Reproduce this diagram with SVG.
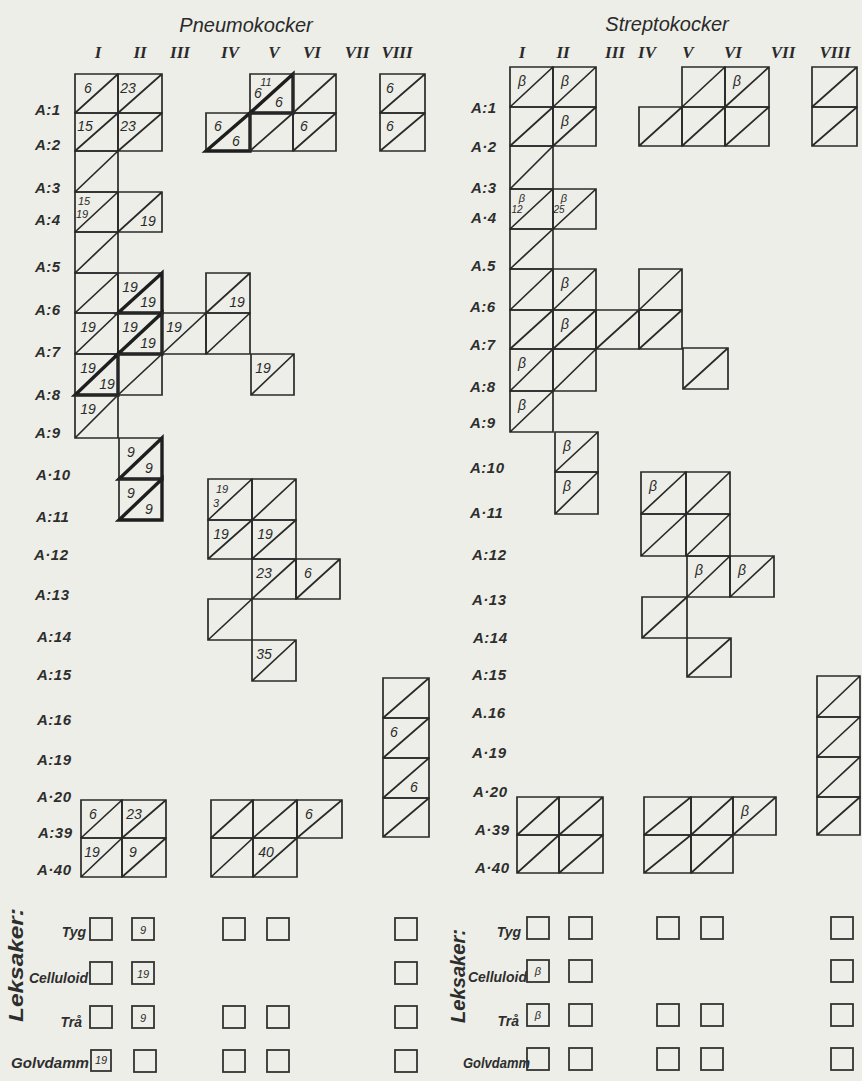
<svg xmlns="http://www.w3.org/2000/svg" width="862" height="1081" viewBox="0 0 862 1081">
<style>
.c{fill:none;stroke:#2a2a2a;stroke-width:1.7}
.b{fill:none;stroke:#1e1e1e;stroke-width:3.4;stroke-linejoin:miter}
.n{font-family:"Liberation Sans",Arial,sans-serif;font-style:italic;font-size:14px;fill:#2a2a2a;text-anchor:middle}
.s{font-size:11px}
.xs{font-size:10px}
.lab{font-family:"Liberation Sans",Arial,sans-serif;font-style:italic;font-weight:bold;font-size:15px;fill:#2e2e2e;letter-spacing:0.5px}
.rn{font-family:"Liberation Serif","Times New Roman",serif;font-weight:bold;font-style:italic;font-size:17px;fill:#2a2a2a;text-anchor:middle}
.ti{font-family:"Liberation Sans",Arial,sans-serif;font-style:italic;font-size:20px;fill:#2a2a2a;text-anchor:middle}
.ty{font-family:"Liberation Sans",Arial,sans-serif;font-style:italic;font-weight:bold;font-size:14px;fill:#2e2e2e;text-anchor:end}
.lk{font-family:"Liberation Sans",Arial,sans-serif;font-style:italic;font-weight:bold;font-size:20px;fill:#2e2e2e;text-anchor:middle}
.bx{fill:none;stroke:#333;stroke-width:1.8}
</style>
<rect width="862" height="1081" fill="#edeee8"/>

<g id="headers">
<text class="ti" x="246" y="32">Pneumokocker</text>
<text class="ti" x="667" y="31">Streptokocker</text>
<text class="rn" x="98" y="58">I</text><text class="rn" x="140" y="58">II</text><text class="rn" x="180" y="58">III</text><text class="rn" x="230" y="58">IV</text><text class="rn" x="274" y="58">V</text><text class="rn" x="312" y="58">VI</text><text class="rn" x="357" y="58">VII</text><text class="rn" x="397" y="58">VIII</text>
<text class="rn" x="522" y="58">I</text><text class="rn" x="563" y="58">II</text><text class="rn" x="615" y="58">III</text><text class="rn" x="647" y="58">IV</text><text class="rn" x="688" y="58">V</text><text class="rn" x="733" y="58">VI</text><text class="rn" x="783" y="58">VII</text><text class="rn" x="835" y="58">VIII</text>
</g>

<g id="row-labels-left">
<text class="lab" x="35" y="115">A:1</text><text class="lab" x="35" y="150">A:2</text><text class="lab" x="35" y="193">A:3</text><text class="lab" x="35" y="225">A:4</text><text class="lab" x="35" y="272">A:5</text>
<text class="lab" x="35" y="315">A:6</text><text class="lab" x="35" y="357">A:7</text><text class="lab" x="35" y="400">A:8</text><text class="lab" x="35" y="438">A:9</text><text class="lab" x="36" y="480">A·10</text>
<text class="lab" x="36" y="522">A:11</text><text class="lab" x="34" y="560">A·12</text><text class="lab" x="35" y="600">A:13</text><text class="lab" x="37" y="642">A:14</text><text class="lab" x="37" y="680">A:15</text>
<text class="lab" x="37" y="725">A:16</text><text class="lab" x="37" y="765">A:19</text><text class="lab" x="37" y="802">A·20</text><text class="lab" x="38" y="838">A:39</text><text class="lab" x="37" y="875">A·40</text>
</g>
<g id="row-labels-right">
<text class="lab" x="471" y="113">A:1</text><text class="lab" x="471" y="152">A·2</text><text class="lab" x="471" y="193">A:3</text><text class="lab" x="471" y="223">A·4</text><text class="lab" x="471" y="271">A.5</text>
<text class="lab" x="470" y="312">A:6</text><text class="lab" x="470" y="350">A:7</text><text class="lab" x="470" y="392">A:8</text><text class="lab" x="470" y="428">A:9</text><text class="lab" x="470" y="473">A:10</text>
<text class="lab" x="470" y="518">A·11</text><text class="lab" x="472" y="560">A:12</text><text class="lab" x="472" y="605">A·13</text><text class="lab" x="473" y="643">A:14</text><text class="lab" x="472" y="680">A:15</text>
<text class="lab" x="472" y="718">A.16</text><text class="lab" x="472" y="758">A·19</text><text class="lab" x="473" y="797">A·20</text><text class="lab" x="475" y="835">A·39</text><text class="lab" x="475" y="873">A·40</text>
</g>

<g id="pneumokocker">
<g id="L-A1-I"><path class="c" d="M75 74h43v39h-43Z M75 113L118 74"/><text class="n" x="88" y="93">6</text></g>
<g id="L-A1-II"><path class="c" d="M118 74h44v39h-44Z M118 113L162 74"/><text class="n" x="128" y="93">23</text></g>
<g id="L-A1-V"><path class="c" d="M250 74h43v39h-43Z M250 113L293 74"/><path class="b" d="M250 113L293 74V113Z"/><text class="n s" x="266" y="86">11</text><text class="n" x="258" y="98">6</text><text class="n" x="279" y="107">6</text></g>
<g id="L-A1-VI"><path class="c" d="M293 74h43v39h-43Z M293 113L336 74"/></g>
<g id="L-A1-VIII"><path class="c" d="M380 74h45v39h-45Z M380 113L425 74"/><text class="n" x="390" y="93">6</text></g>
<g id="L-A2-I"><path class="c" d="M75 113h43v38h-43Z M75 151L118 113"/><text class="n" x="85" y="131">15</text></g>
<g id="L-A2-II"><path class="c" d="M118 113h44v38h-44Z M118 151L162 113"/><text class="n" x="128" y="131">23</text></g>
<g id="L-A2-IV"><path class="c" d="M206 113h44v38h-44Z M206 151L250 113"/><path class="b" d="M206 151L250 113V151Z"/><text class="n" x="218" y="131">6</text><text class="n" x="236" y="146">6</text></g>
<g id="L-A2-V"><path class="c" d="M250 113h43v38h-43Z M250 151L293 113"/></g>
<g id="L-A2-VI"><path class="c" d="M293 113h43v38h-43Z M293 151L336 113"/><text class="n" x="304" y="131">6</text></g>
<g id="L-A2-VIII"><path class="c" d="M380 113h45v38h-45Z M380 151L425 113"/><text class="n" x="390" y="131">6</text></g>
<g id="L-A3-I"><path class="c" d="M75 151h43v41h-43Z M75 192L118 151"/></g>
<g id="L-A4-I"><path class="c" d="M75 192h43v40h-43Z M75 232L118 192"/><text class="n s" x="84" y="205">15</text><text class="n s" x="82" y="218">19</text></g>
<g id="L-A4-II"><path class="c" d="M118 192h44v40h-44Z M118 232L162 192"/><text class="n" x="148" y="226">19</text></g>
<g id="L-A5-I"><path class="c" d="M75 232h43v41h-43Z M75 273L118 232"/></g>
<g id="L-A6-I"><path class="c" d="M75 273h43v40h-43Z M75 313L118 273"/></g>
<g id="L-A6-II"><path class="c" d="M118 273h44v40h-44Z M118 313L162 273"/><path class="b" d="M118 313L162 273V313Z"/><text class="n" x="130" y="292">19</text><text class="n" x="148" y="307">19</text></g>
<g id="L-A6-IV"><path class="c" d="M206 273h44v40h-44Z M206 313L250 273"/><text class="n" x="237" y="307">19</text></g>
<g id="L-A7-I"><path class="c" d="M75 313h43v41h-43Z M75 354L118 313"/><text class="n" x="88" y="332">19</text></g>
<g id="L-A7-II"><path class="c" d="M118 313h44v41h-44Z M118 354L162 313"/><path class="b" d="M118 354L162 313V354Z"/><text class="n" x="130" y="332">19</text><text class="n" x="148" y="348">19</text></g>
<g id="L-A7-III"><path class="c" d="M162 313h44v41h-44Z M162 354L206 313"/><text class="n" x="174" y="332">19</text></g>
<g id="L-A7-IV"><path class="c" d="M206 313h44v41h-44Z M206 354L250 313"/></g>
<g id="L-A8-I"><path class="c" d="M75 354h43v41h-43Z M75 395L118 354"/><path class="b" d="M75 395L118 354V395Z"/><text class="n" x="88" y="373">19</text><text class="n" x="107" y="389">19</text></g>
<g id="L-A8-II"><path class="c" d="M118 354h44v41h-44Z M118 395L162 354"/></g>
<g id="L-A8-V"><path class="c" d="M251 354h43v41h-43Z M251 395L294 354"/><text class="n" x="263" y="373">19</text></g>
<g id="L-A9-I"><path class="c" d="M75 395h43v43h-43Z M75 438L118 395"/><text class="n" x="88" y="414">19</text></g>
<g id="L-A10-II"><path class="c" d="M119 438h43v41h-43Z M119 479L162 438"/><path class="b" d="M119 479L162 438V479Z"/><text class="n" x="131" y="457">9</text><text class="n" x="149" y="473">9</text></g>
<g id="L-A11-II"><path class="c" d="M119 479h43v41h-43Z M119 520L162 479"/><path class="b" d="M119 520L162 479V520Z"/><text class="n" x="131" y="498">9</text><text class="n" x="149" y="514">9</text></g>
<g id="L-A11-IV"><path class="c" d="M208 479h44v41h-44Z M208 520L252 479"/><text class="n s" x="222" y="493">19</text><text class="n s" x="216" y="507">3</text></g>
<g id="L-A11-V"><path class="c" d="M252 479h44v41h-44Z M252 520L296 479"/></g>
<g id="L-A12-IV"><path class="c" d="M208 520h44v39h-44Z M208 559L252 520"/><text class="n" x="221" y="539">19</text></g>
<g id="L-A12-V"><path class="c" d="M252 520h44v39h-44Z M252 559L296 520"/><text class="n" x="265" y="539">19</text></g>
<g id="L-A13-V"><path class="c" d="M252 559h44v40h-44Z M252 599L296 559"/><text class="n" x="264" y="578">23</text></g>
<g id="L-A13-VI"><path class="c" d="M296 559h44v40h-44Z M296 599L340 559"/><text class="n" x="308" y="578">6</text></g>
<g id="L-A14-IV"><path class="c" d="M208 599h44v41h-44Z M208 640L252 599"/></g>
<g id="L-A15-V"><path class="c" d="M252 640h44v41h-44Z M252 681L296 640"/><text class="n" x="264" y="659">35</text></g>
<g id="L-A16-VIII"><path class="c" d="M383 678h46v40h-46Z M383 718L429 678"/></g>
<g id="L-A19-VIII"><path class="c" d="M383 718h46v40h-46Z M383 758L429 718"/><text class="n" x="394" y="737">6</text></g>
<g id="L-A20-VIII"><path class="c" d="M383 758h46v40h-46Z M383 798L429 758"/><text class="n" x="414" y="792">6</text></g>
<g id="L-A39-VIII"><path class="c" d="M383 798h46v39h-46Z M383 837L429 798"/></g>
<g id="L-A39-I"><path class="c" d="M81 800h41v38h-41Z M81 838L122 800"/><text class="n" x="93" y="819">6</text></g>
<g id="L-A39-II"><path class="c" d="M122 800h44v38h-44Z M122 838L166 800"/><text class="n" x="134" y="819">23</text></g>
<g id="L-A40-I"><path class="c" d="M81 838h41v39h-41Z M81 877L122 838"/><text class="n" x="92" y="857">19</text></g>
<g id="L-A40-II"><path class="c" d="M122 838h44v39h-44Z M122 877L166 838"/><text class="n" x="133" y="857">9</text></g>
<g id="L-A39-IV"><path class="c" d="M211 800h42v38h-42Z M211 838L253 800"/></g>
<g id="L-A39-V"><path class="c" d="M253 800h44v38h-44Z M253 838L297 800"/></g>
<g id="L-A39-VI"><path class="c" d="M297 800h45v38h-45Z M297 838L342 800"/><text class="n" x="309" y="819">6</text></g>
<g id="L-A40-IV"><path class="c" d="M211 838h42v39h-42Z M211 877L253 838"/></g>
<g id="L-A40-V"><path class="c" d="M253 838h44v39h-44Z M253 877L297 838"/><text class="n" x="266" y="857">40</text></g>
</g>

<g id="streptokocker">
<g id="R-A1-I"><path class="c" d="M510 67h43v40h-43Z M510 107L553 67"/><text class="n" x="522" y="86">β</text></g>
<g id="R-A1-II"><path class="c" d="M553 67h43v40h-43Z M553 107L596 67"/><text class="n" x="565" y="86">β</text></g>
<g id="R-A1-V"><path class="c" d="M682 67h43v40h-43Z M682 107L725 67"/></g>
<g id="R-A1-VI"><path class="c" d="M725 67h44v40h-44Z M725 107L769 67"/><text class="n" x="737" y="86">β</text></g>
<g id="R-A1-VIII"><path class="c" d="M812 67h45v40h-45Z M812 107L857 67"/></g>
<g id="R-A2-I"><path class="c" d="M510 107h43v39h-43Z M510 146L553 107"/></g>
<g id="R-A2-II"><path class="c" d="M553 107h43v39h-43Z M553 146L596 107"/><text class="n" x="565" y="126">β</text></g>
<g id="R-A2-IV"><path class="c" d="M639 107h43v39h-43Z M639 146L682 107"/></g>
<g id="R-A2-V"><path class="c" d="M682 107h43v39h-43Z M682 146L725 107"/></g>
<g id="R-A2-VI"><path class="c" d="M725 107h44v39h-44Z M725 146L769 107"/></g>
<g id="R-A2-VIII"><path class="c" d="M812 107h45v39h-45Z M812 146L857 107"/></g>
<g id="R-A3-I"><path class="c" d="M510 146h43v43h-43Z M510 189L553 146"/></g>
<g id="R-A4-I"><path class="c" d="M510 189h43v40h-43Z M510 229L553 189"/><text class="n s" x="522" y="202">β</text><text class="n xs" x="517" y="213">12</text></g>
<g id="R-A4-II"><path class="c" d="M553 189h43v40h-43Z M553 229L596 189"/><text class="n s" x="564" y="202">β</text><text class="n xs" x="559" y="213">25</text></g>
<g id="R-A5-I"><path class="c" d="M510 229h43v40h-43Z M510 269L553 229"/></g>
<g id="R-A6-I"><path class="c" d="M510 269h43v41h-43Z M510 310L553 269"/></g>
<g id="R-A6-II"><path class="c" d="M553 269h43v41h-43Z M553 310L596 269"/><text class="n" x="565" y="288">β</text></g>
<g id="R-A6-IV"><path class="c" d="M639 269h43v41h-43Z M639 310L682 269"/></g>
<g id="R-A7-I"><path class="c" d="M510 310h43v39h-43Z M510 349L553 310"/></g>
<g id="R-A7-II"><path class="c" d="M553 310h43v39h-43Z M553 349L596 310"/><text class="n" x="565" y="329">β</text></g>
<g id="R-A7-III"><path class="c" d="M596 310h43v39h-43Z M596 349L639 310"/></g>
<g id="R-A7-IV"><path class="c" d="M639 310h43v39h-43Z M639 349L682 310"/></g>
<g id="R-A8-I"><path class="c" d="M510 349h43v42h-43Z M510 391L553 349"/><text class="n" x="522" y="368">β</text></g>
<g id="R-A8-II"><path class="c" d="M553 349h43v42h-43Z M553 391L596 349"/></g>
<g id="R-A8-V"><path class="c" d="M683 348h45v41h-45Z M683 389L728 348"/></g>
<g id="R-A9-I"><path class="c" d="M510 391h43v41h-43Z M510 432L553 391"/><text class="n" x="522" y="410">β</text></g>
<g id="R-A10-II"><path class="c" d="M555 432h43v40h-43Z M555 472L598 432"/><text class="n" x="567" y="451">β</text></g>
<g id="R-A11-II"><path class="c" d="M555 472h43v42h-43Z M555 514L598 472"/><text class="n" x="567" y="491">β</text></g>
<g id="R-A11-IV"><path class="c" d="M641 472h45v42h-45Z M641 514L686 472"/><text class="n" x="653" y="491">β</text></g>
<g id="R-A11-V"><path class="c" d="M686 472h44v42h-44Z M686 514L730 472"/></g>
<g id="R-A12-IV"><path class="c" d="M641 514h45v42h-45Z M641 556L686 514"/></g>
<g id="R-A12-V"><path class="c" d="M686 514h44v42h-44Z M686 556L730 514"/></g>
<g id="R-A13-V"><path class="c" d="M687 556h43v41h-43Z M687 597L730 556"/><text class="n" x="699" y="575">β</text></g>
<g id="R-A13-VI"><path class="c" d="M730 556h44v41h-44Z M730 597L774 556"/><text class="n" x="742" y="575">β</text></g>
<g id="R-A14-IV"><path class="c" d="M642 597h45v41h-45Z M642 638L687 597"/></g>
<g id="R-A15-V"><path class="c" d="M687 638h44v39h-44Z M687 677L731 638"/></g>
<g id="R-A16-VIII"><path class="c" d="M817 676h43v41h-43Z M817 717L860 676"/></g>
<g id="R-A19-VIII"><path class="c" d="M817 717h43v40h-43Z M817 757L860 717"/></g>
<g id="R-A20-VIII"><path class="c" d="M817 757h43v40h-43Z M817 797L860 757"/></g>
<g id="R-A39-VIII"><path class="c" d="M817 797h43v38h-43Z M817 835L860 797"/></g>
<g id="R-A39-I"><path class="c" d="M517 797h42v38h-42Z M517 835L559 797"/></g>
<g id="R-A39-II"><path class="c" d="M559 797h44v38h-44Z M559 835L603 797"/></g>
<g id="R-A40-I"><path class="c" d="M517 835h42v38h-42Z M517 873L559 835"/></g>
<g id="R-A40-II"><path class="c" d="M559 835h44v38h-44Z M559 873L603 835"/></g>
<g id="R-A39-IV"><path class="c" d="M644 797h47v38h-47Z M644 835L691 797"/></g>
<g id="R-A39-V"><path class="c" d="M691 797h42v38h-42Z M691 835L733 797"/></g>
<g id="R-A39-VI"><path class="c" d="M733 797h43v38h-43Z M733 835L776 797"/><text class="n" x="745" y="816">β</text></g>
<g id="R-A40-IV"><path class="c" d="M644 835h47v38h-47Z M644 873L691 835"/></g>
<g id="R-A40-V"><path class="c" d="M691 835h42v38h-42Z M691 873L733 835"/></g>
</g>

<g id="leksaker-left">
<text class="lk" transform="translate(23 965) rotate(-90)" textLength="114" lengthAdjust="spacingAndGlyphs">Leksaker:</text>
<text class="ty" x="86" y="937">Tyg</text>
<text class="ty" x="88" y="983">Celluloid</text>
<text class="ty" x="82" y="1027">Trå</text>
<text class="ty" x="89" y="1068" textLength="78" lengthAdjust="spacingAndGlyphs">Golvdamm</text>
<rect class="bx" x="90" y="918" width="22" height="22"/><rect class="bx" x="132" y="918" width="22" height="22"/><text class="n s" x="143" y="934">9</text><rect class="bx" x="223" y="918" width="22" height="22"/><rect class="bx" x="267" y="918" width="22" height="22"/><rect class="bx" x="395" y="918" width="22" height="22"/>
<rect class="bx" x="90" y="962" width="22" height="22"/><rect class="bx" x="132" y="962" width="22" height="22"/><text class="n s" x="143" y="978">19</text><rect class="bx" x="395" y="962" width="22" height="22"/>
<rect class="bx" x="90" y="1006" width="22" height="22"/><rect class="bx" x="132" y="1006" width="22" height="22"/><text class="n s" x="143" y="1022">9</text><rect class="bx" x="223" y="1006" width="22" height="22"/><rect class="bx" x="267" y="1006" width="22" height="22"/><rect class="bx" x="395" y="1006" width="22" height="22"/>
<rect class="bx" x="91" y="1050" width="20" height="21"/><text class="n s" x="101" y="1064">19</text><rect class="bx" x="134" y="1050" width="22" height="22"/><rect class="bx" x="223" y="1050" width="22" height="22"/><rect class="bx" x="267" y="1050" width="22" height="22"/><rect class="bx" x="395" y="1050" width="22" height="22"/>
</g>

<g id="leksaker-right">
<text class="lk" transform="translate(465 976) rotate(-90)" textLength="94" lengthAdjust="spacingAndGlyphs">Leksaker:</text>
<text class="ty" x="521" y="937">Tyg</text>
<text class="ty" x="527" y="982">Celluloid</text>
<text class="ty" x="519" y="1026">Trå</text>
<text class="ty" x="530" y="1068" textLength="67" lengthAdjust="spacingAndGlyphs">Golvdamm</text>
<rect class="bx" x="527" y="917" width="22" height="22"/><rect class="bx" x="569" y="917" width="23" height="22"/><rect class="bx" x="657" y="917" width="22" height="22"/><rect class="bx" x="701" y="917" width="22" height="22"/><rect class="bx" x="831" y="917" width="22" height="22"/>
<rect class="bx" x="527" y="960" width="22" height="22"/><text class="n s" x="538" y="975">β</text><rect class="bx" x="569" y="960" width="23" height="22"/><rect class="bx" x="831" y="960" width="22" height="22"/>
<rect class="bx" x="527" y="1004" width="22" height="22"/><text class="n s" x="538" y="1019">β</text><rect class="bx" x="569" y="1004" width="23" height="22"/><rect class="bx" x="657" y="1004" width="22" height="22"/><rect class="bx" x="701" y="1004" width="22" height="22"/><rect class="bx" x="831" y="1004" width="22" height="22"/>
<rect class="bx" x="527" y="1048" width="22" height="22" fill="#edeee8"/><rect class="bx" x="569" y="1048" width="23" height="22"/><rect class="bx" x="657" y="1048" width="22" height="22"/><rect class="bx" x="701" y="1048" width="22" height="22"/><rect class="bx" x="831" y="1048" width="22" height="22"/>
</g>
</svg>
